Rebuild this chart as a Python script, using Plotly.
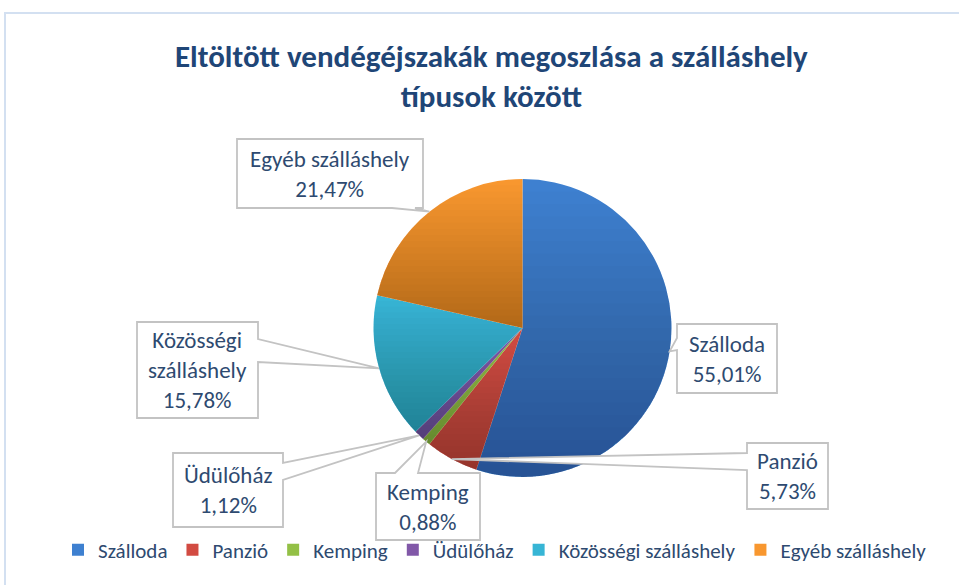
import math
import plotly.graph_objects as go

# ---- data ----
categories = ["Szálloda", "Panzió", "Kemping", "Üdülőház",
              "Közösségi szálláshely", "Egyéb szálláshely"]
shares = [55.01, 5.73, 0.88, 1.12, 15.78, 21.47]
label_texts = ["Szálloda", "Panzió", "Kemping", "Üdülőház",
               "Közösségi<br>szálláshely", "Egyéb szálláshely"]
title_text = "Eltöltött vendégéjszakák megoszlása a szálláshely<br>típusok között"

# ---- styling / layout ----
W, H = 959, 585
colors = ["#3e80d0", "#d24b42", "#93c046", "#8158a8", "#37b5d5", "#f8972f"]
FONT = "Carlito, Lato, sans-serif"
TXT = "#2e4a70"

CX, CY, R = 522.5, 328.0, 149.0  # pie centre/radius in px


def px(x):
    return x / W


def py(y):
    return 1 - y / H


# callout boxes: (x0, y0, x1, y1, edge, base1, base2) in px
boxes = {
    "Szálloda": (677, 324, 777, 393, "left", 338, 350),
    "Panzió": (747, 443, 828, 509, "left", 453, 470),
    "Kemping": (376, 473, 480, 540, "top", 395, 418),
    "Üdülőház": (173, 453, 283, 527, "right", 463, 480),
    "Közösségi szálláshely": (137, 322, 258, 418, "right", 339, 362),
    "Egyéb szálláshely": (237, 139, 423, 208, "bottom", 392, 415),
}

fig = go.Figure()
fig.add_trace(go.Pie(
    labels=categories, values=shares, sort=False, direction="clockwise",
    rotation=0, textinfo="none", hoverinfo="label+percent",
    marker=dict(colors=colors, line=dict(width=0)),
    domain=dict(x=[px(CX - R), px(CX + R)], y=[py(CY + R), py(CY - R)]),
))

shapes = []

# frame
shapes.append(dict(type="rect", xref="paper", yref="paper",
                   x0=px(5), x1=px(985), y0=py(610), y1=py(13),
                   line=dict(color="#d3e0f1", width=2), fillcolor="rgba(0,0,0,0)",
                   layer="below"))

total = sum(shares)


def slice_poly(a0, a1):
    pts = [(CX, CY)]
    n = max(4, int((a1 - a0) / 2) + 2)
    for i in range(n + 1):
        a = math.radians(a0 + (a1 - a0) * i / n)
        pts.append((CX + R * math.sin(a), CY - R * math.cos(a)))
    return pts


def clip_below(poly, yc):
    out = []
    n = len(poly)
    for i in range(n):
        p, q = poly[i], poly[(i + 1) % n]
        pin, qin = p[1] >= yc, q[1] >= yc
        if pin:
            out.append(p)
        if pin != qin:
            t = (yc - p[1]) / (q[1] - p[1])
            out.append((p[0] + t * (q[0] - p[0]), yc))
    return out


def to_path(pts):
    return "M" + "L".join(f"{px(x):.5f},{py(y):.5f}" for x, y in pts) + "Z"


# per-slice vertical gradient (darker towards the bottom)
N = 24
alpha = 1 - 0.78 ** (1 / N)
cum = 0.0
anchors = []
for v in shares:
    a0 = cum / total * 360
    cum += v
    a1 = cum / total * 360
    am = math.radians((a0 + a1) / 2)
    anchors.append((CX + R * math.sin(am), CY - R * math.cos(am)))
    poly = slice_poly(a0, a1)
    ys = [p[1] for p in poly]
    ymin, ymax = min(ys), max(ys)
    for i in range(1, N):
        yc = ymin + (ymax - ymin) * i / N
        cp = clip_below(poly, yc)
        if len(cp) >= 3:
            shapes.append(dict(type="path", xref="paper", yref="paper",
                               path=to_path(cp), line=dict(width=0),
                               fillcolor=f"rgba(0,0,0,{alpha:.4f})"))

# callouts
annotations = []
for cat, txt, v, tip in zip(categories, label_texts, shares, anchors):
    x0, y0, x1, y1, edge, b1, b2 = boxes[cat]
    if edge == "top":
        pts = [(x0, y0), (b1, y0), tip, (b2, y0), (x1, y0), (x1, y1), (x0, y1)]
    elif edge == "right":
        pts = [(x0, y0), (x1, y0), (x1, b1), tip, (x1, b2), (x1, y1), (x0, y1)]
    elif edge == "bottom":
        pts = [(x0, y0), (x1, y0), (x1, y1), (b2, y1), tip, (b1, y1), (x0, y1)]
    else:
        pts = [(x0, y0), (x1, y0), (x1, y1), (x0, y1), (x0, b2), tip, (x0, b1)]
    shapes.append(dict(type="path", xref="paper", yref="paper", path=to_path(pts),
                       line=dict(color="#c3c3c3", width=1.8), fillcolor="white"))
    pct = f"{v:.2f}".replace(".", ",") + "%"
    annotations.append(dict(xref="paper", yref="paper", x=px((x0 + x1) / 2),
                            y=py((y0 + y1) / 2), xanchor="center", yanchor="middle",
                            text=f"{txt}<br>{pct}", showarrow=False, align="center",
                            font=dict(family=FONT, size=23, color=TXT)))

annotations.append(dict(xref="paper", yref="paper", x=px(491), y=py(76),
                        xanchor="center", yanchor="middle", text=f"<b>{title_text}</b>",
                        showarrow=False, align="center",
                        font=dict(family=FONT, size=31, color="#1f4677")))

fig.update_layout(
    width=W, height=H, margin=dict(l=0, r=0, t=0, b=0),
    paper_bgcolor="white", plot_bgcolor="white",
    shapes=shapes, annotations=annotations,
    showlegend=True,
    legend=dict(orientation="h", x=px(495), xanchor="center", y=py(550), yanchor="middle",
                bgcolor="rgba(0,0,0,0)",
                font=dict(family=FONT, size=21, color=TXT), itemclick=False,
                traceorder="normal"),
)

fig.write_html("out.html", post_script="document.body.style.margin='0';",
               config={"displayModeBar": False})
